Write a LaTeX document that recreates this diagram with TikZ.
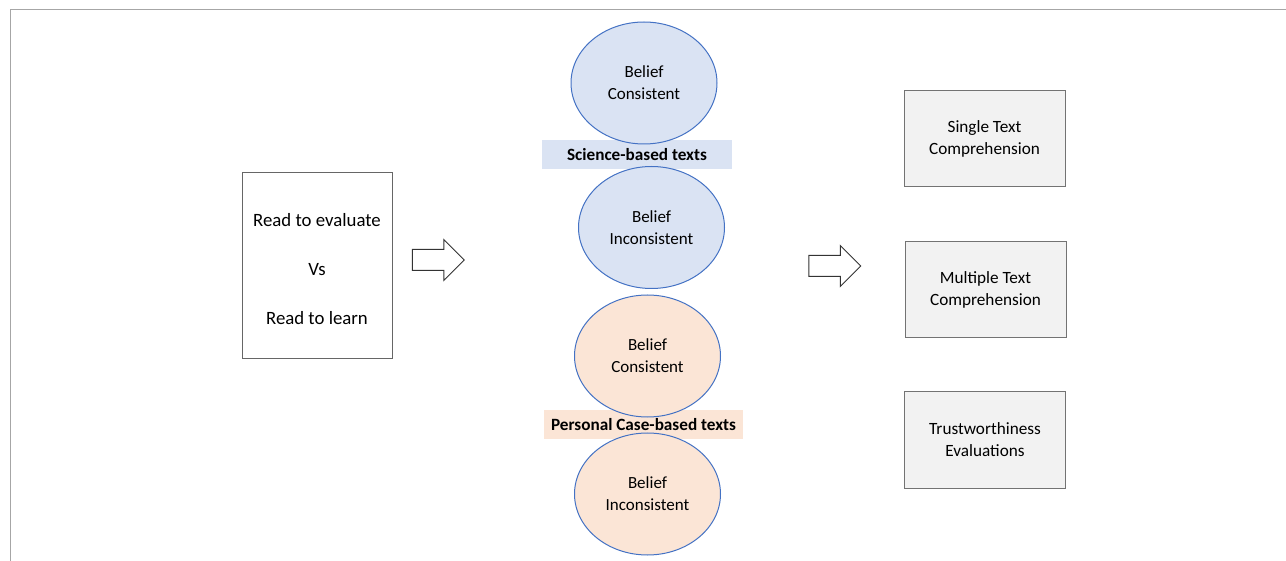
\documentclass[tikz,border=0pt]{standalone}
\usepackage{fontspec}
\setmainfont{Carlito}
\usetikzlibrary{shapes.geometric, shapes.arrows}

\definecolor{bluefill}{HTML}{DAE3F3}
\definecolor{orangefill}{HTML}{FBE5D6}
\definecolor{ellline}{HTML}{4472C4}
\definecolor{boxfill}{HTML}{F2F2F2}
\definecolor{frameline}{HTML}{A6A6A6}

\tikzset{
  belief/.style={ellipse, draw=ellline, line width=0.5pt, minimum width=73pt, minimum height=61pt,
    inner sep=0pt, align=center, font=\fontsize{8.5}{11}\selectfont},
  band/.style={inner sep=0pt, minimum width=95pt, minimum height=14.5pt,
    font=\fontsize{8.6}{9}\selectfont\bfseries},
  outbox/.style={draw=black!55, fill=boxfill, line width=0.5pt, minimum width=80.5pt, minimum height=48pt,
    align=center, font=\fontsize{8.6}{11}\selectfont},
  blockarrow/.style={single arrow, draw=black!80, fill=white, line width=0.5pt, inner xsep=0pt, inner ysep=5pt,
    minimum height=26pt, single arrow head extend=5pt}
}

\begin{document}
\begin{tikzpicture}[x=0.5pt, y=-0.5pt]
\useasboundingbox (0,0) rectangle (1286,561);
\draw[frameline, line width=0.75pt] (10.5,561) -- (10.5,9.5) -- (1286,9.5);

% reading goal
\node[draw=black!60, line width=0.5pt, minimum width=75pt, minimum height=93pt] (goal) at (317,266) {};
\node[align=center, font=\fontsize{9.4}{24.5}\selectfont] (goaltext) at (317,269) {Read to evaluate\\Vs\\Read to learn};

\node[blockarrow] (arrowin) at (433,260) {};

% text types
\node[band, fill=bluefill] (science) at (637,154.5) {Science-based texts};
\node[band, fill=orangefill, minimum width=99.5pt] (personal) at (643.5,424.5) {Personal Case-based texts};

\node[belief, fill=bluefill] (sciCons) at (644,83) {Belief\\Consistent};
\node[belief, fill=bluefill] (sciIncons) at (651.5,227.5) {Belief\\Inconsistent};
\node[belief, fill=orangefill] (perCons) at (647.5,356) {Belief\\Consistent};
\node[belief, fill=orangefill] (perIncons) at (647.5,494) {Belief\\Inconsistent};

\node[blockarrow] (arrowout) at (829.5,266) {};

% outcomes
\node[outbox] (single) at (984.5,139) {Single Text\\Comprehension};
\node[outbox] (multiple) at (985.5,289.5) {Multiple Text\\Comprehension};
\node[outbox] (trust) at (985,440) {Trustworthiness\\Evaluations};
\end{tikzpicture}
\end{document}
